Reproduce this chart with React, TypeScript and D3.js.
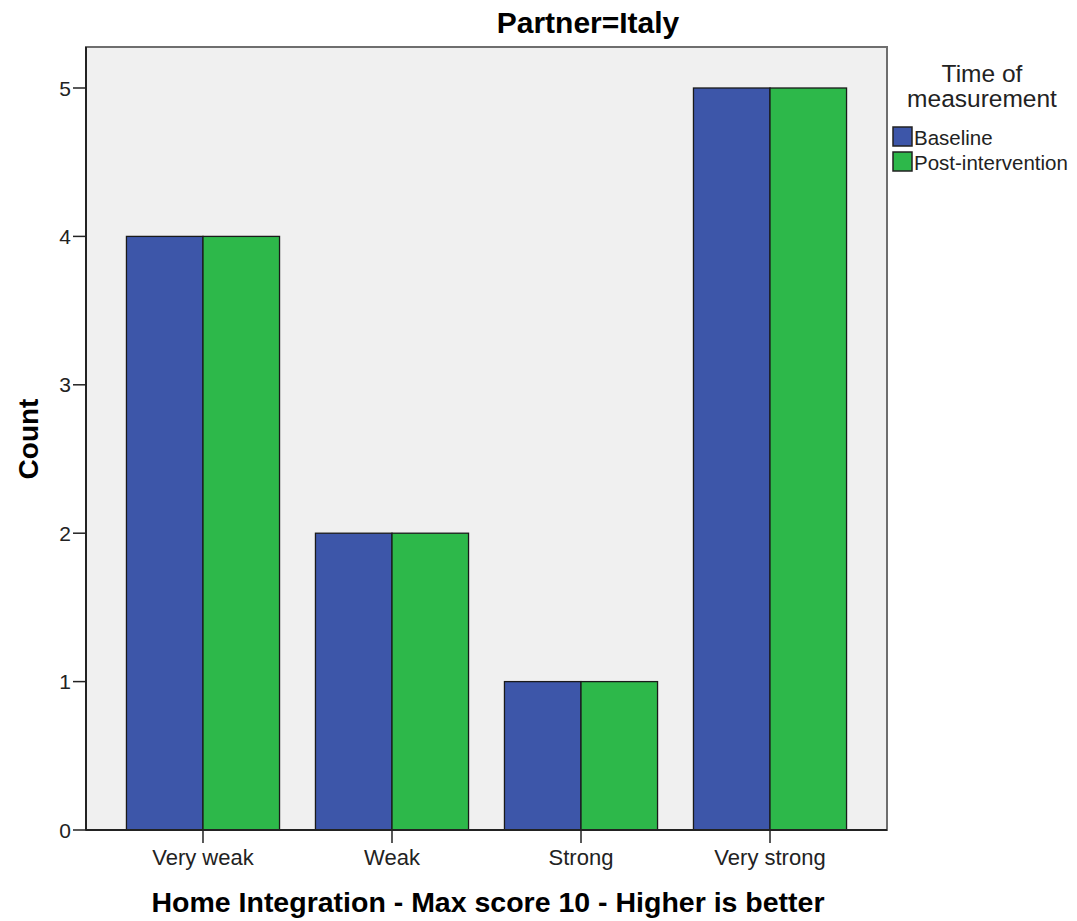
import React from "react";
import * as d3 from "d3";

const categories = ["Very weak", "Weak", "Strong", "Very strong"];
const seriesNames = ["Baseline", "Post-intervention"];
const baseline = [4, 2, 1, 5];
const postIntervention = [4, 2, 1, 5];
const yTicks = [0, 1, 2, 3, 4, 5];
const colors = ["#3D56A9", "#2DB84A"];

export default function App() {
  const W = 1077, H = 921;
  const left = 86, right = 887, top = 47, bottom = 830;
  const y = d3.scaleLinear().domain([0, 5]).range([bottom, 88]);
  const x = d3.scaleBand<string>().domain(categories).range([left, right]).paddingInner(0.19).paddingOuter(0.214);
  const xs = d3.scaleBand<string>().domain(seriesNames).range([0, x.bandwidth()]);
  const series = [baseline, postIntervention];
  const font = "'Liberation Sans', Arial, sans-serif";
  return (
    <svg width={W} height={H} style={{ position: "absolute", left: 0, top: 0 }} fontFamily={font}>
      <rect x={0} y={0} width={W} height={H} fill="#fff" />
      <rect x={left} y={top} width={right - left} height={bottom - top} fill="#F0F0F0" stroke="#6e6e6e" strokeWidth={2} />
      {categories.map((c, i) =>
        series.map((s, j) => (
          <rect key={c + j} x={x(c)! + xs(seriesNames[j])!} y={y(s[i])} width={xs.bandwidth()} height={y(0) - y(s[i])}
            fill={colors[j]} stroke="#1a1a1a" strokeWidth={1.3} />
        ))
      )}
      <line x1={left} x2={left} y1={top} y2={bottom} stroke="#222" strokeWidth={2} />
      <line x1={left} x2={right} y1={bottom} y2={bottom} stroke="#222" strokeWidth={2} />
      {yTicks.map(t => (
        <g key={t}>
          <line x1={left - 13} x2={left} y1={y(t)} y2={y(t)} stroke="#222" strokeWidth={1.5} />
          <text x={left - 15} y={y(t)} dy="0.36em" textAnchor="end" fontSize={21} fill="#222">{t}</text>
        </g>
      ))}
      {categories.map(c => {
        const cx = x(c)! + x.bandwidth() / 2;
        return (
          <g key={c}>
            <line x1={cx} x2={cx} y1={bottom} y2={bottom + 13} stroke="#222" strokeWidth={1.5} />
            <text x={cx} y={865} textAnchor="middle" fontSize={22} fill="#222">{c}</text>
          </g>
        );
      })}
      <text x={588} y={33} textAnchor="middle" fontSize={30} fontWeight="bold" fill="#000">Partner=Italy</text>
      <text x={488} y={912} textAnchor="middle" fontSize={28.5} fontWeight="bold" fill="#000">Home Integration - Max score 10 - Higher is better</text>
      <text transform={`translate(38,439) rotate(-90)`} textAnchor="middle" fontSize={28} fontWeight="bold" fill="#000">Count</text>
      <text x={982} y={82} textAnchor="middle" fontSize={24.5} fill="#222">Time of</text>
      <text x={982} y={107} textAnchor="middle" fontSize={24.5} fill="#222">measurement</text>
      {seriesNames.map((n, j) => (
        <g key={n}>
          <rect x={893} y={127 + j * 25} width={19} height={19} fill={colors[j]} stroke="#222" strokeWidth={1.5} />
          <text x={914} y={145 + j * 25} fontSize={20.5} fill="#222">{n}</text>
        </g>
      ))}
    </svg>
  );
}
